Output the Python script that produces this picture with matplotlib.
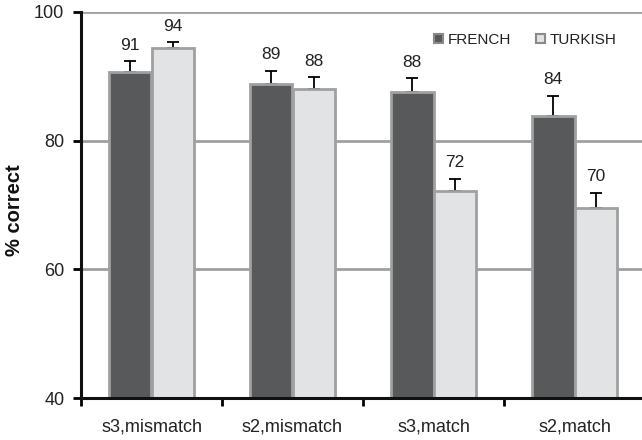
import matplotlib
matplotlib.use("Agg")
import matplotlib.pyplot as plt
from matplotlib.patches import Patch
import numpy as np

plt.rcParams['font.family'] = ['Liberation Sans', 'DejaVu Sans']

categories = ["s3,mismatch", "s2,mismatch", "s3,match", "s2,match"]
french = [90.6, 88.8, 87.6, 83.9]
turkish = [94.4, 88.1, 72.1, 69.6]
french_err = [1.8, 2.1, 2.1, 3.1]
turkish_err = [0.9, 1.8, 2.0, 2.3]
french_labels = ["91", "89", "88", "84"]
turkish_labels = ["94", "88", "72", "70"]
series_names = ["FRENCH", "TURKISH"]
yticks = [40, 60, 80, 100]

fig = plt.figure(figsize=(6.42, 4.40), dpi=100)
ax = fig.add_axes([81/642, 42/440, 564/642, 386/440])

x = np.arange(len(categories)) + 0.5
w = 0.3
c_fr = "#58595b"
c_tr = "#e2e3e5"
edge = "#a0a0a0"

for y in [60, 80, 100]:
    ax.axhline(y, color=edge, lw=2, zorder=1)

ax.bar(x - w/2, french, width=w, color=c_fr, edgecolor=edge, linewidth=2, zorder=2)
ax.bar(x + w/2, turkish, width=w, color=c_tr, edgecolor=edge, linewidth=2, zorder=2)
ax.errorbar(x - w/2, french, yerr=[np.zeros(4), french_err], fmt='none',
            ecolor='black', elinewidth=1.3, capsize=4.5, capthick=1.3, zorder=1.5)
ax.errorbar(x + w/2, turkish, yerr=[np.zeros(4), turkish_err], fmt='none',
            ecolor='black', elinewidth=1.3, capsize=4.5, capthick=1.3, zorder=1.5)

for xi, v, e, lab in zip(x - w/2, french, french_err, french_labels):
    ax.annotate(lab, (xi, v + e), xytext=(0, 6), textcoords='offset points',
                ha='center', va='bottom', fontsize=12.5, color='#222222')
for xi, v, e, lab in zip(x + w/2, turkish, turkish_err, turkish_labels):
    ax.annotate(lab, (xi, v + e), xytext=(0, 6), textcoords='offset points',
                ha='center', va='bottom', fontsize=12.5, color='#222222')

ax.set_xlim(0, 4)
ax.set_ylim(40, 100)
ax.set_yticks(yticks)
ax.set_yticklabels([str(t) for t in yticks], fontsize=13, color='#222222')
ax.set_xticks(x)
ax.set_xticklabels(categories, fontsize=13, color='#222222')
ax.tick_params(axis='x', which='major', length=0, pad=15)
ax.set_xticks(np.arange(0, 5), minor=True)
ax.tick_params(axis='x', which='minor', length=6, width=2, direction='out', color='black')
ax.tick_params(axis='y', length=6, width=2, direction='out', color='black', pad=6)

for s in ['top', 'right']:
    ax.spines[s].set_visible(False)
for s in ['left', 'bottom']:
    ax.spines[s].set_linewidth(2.2)
    ax.spines[s].set_color('#111111')
    ax.spines[s].set_zorder(4)

ax.set_ylabel("% correct", fontsize=14.5, fontweight='bold', color='#111111')
ax.yaxis.set_label_coords(-0.101, 0.487)

handles = [Patch(facecolor=c_fr, edgecolor='#8a8a8a', linewidth=1.5),
           Patch(facecolor=c_tr, edgecolor='#8a8a8a', linewidth=1.5)]
leg = fig.legend(handles, series_names, ncol=2, frameon=False, fontsize=11,
                 loc='center left', bbox_to_anchor=(434/642, 1 - 40/440),
                 handlelength=0.6, handleheight=0.6, handletextpad=0.3,
                 columnspacing=1.6, borderaxespad=0, borderpad=0)
for t in leg.get_texts():
    t.set_color('#222222')

fig.savefig("out.png", dpi=100)
